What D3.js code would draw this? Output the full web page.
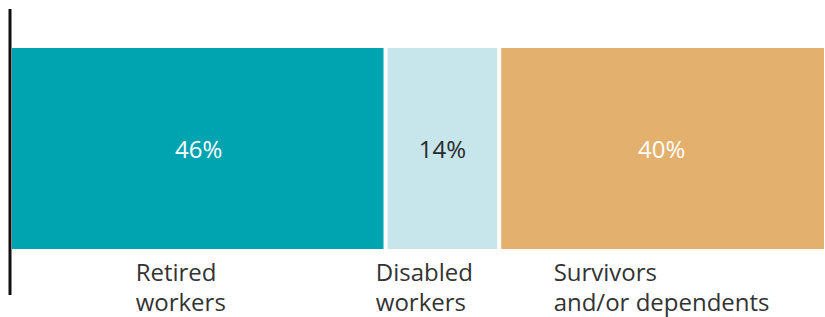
<!DOCTYPE html>
<html>
<meta charset="utf-8">
<style>
body {
  margin: 0;
  background-color: #fff;
  font-family: "Open Sans", Lato, sans-serif;
}

.axis-line {
  stroke: #111;
  stroke-width: 3px;
}

.pct {
  font-size: 24px;
  font-weight: 400;
  text-anchor: middle;
}

.cat {
  font-size: 24px;
  font-weight: 400;
  fill: #333;
}
</style>
<body>
<script src="https://d3js.org/d3.v7.min.js"></script>
<script>

// data
var categories = ["Retired workers", "Disabled workers", "Survivors and/or dependents"];
var shares = [46, 14, 40];
var labelLines = [["Retired", "workers"], ["Disabled", "workers"], ["Survivors", "and/or dependents"]];
var colors = ["#00a3b0", "#c6e6eb", "#e3b06e"];
var textColors = ["#ffffff", "#2a2a2a", "#ffffff"];

var width = 825,
    height = 317,
    gap = 4;

var svg = d3.select("body")
    .append("svg")
    .attr("width", width)
    .attr("height", height);

// stacked positions
var cum = 0;
var data = shares.map(function(v, i) {
  var d = {cat: categories[i], value: v, x0: cum, x1: cum + v, i: i};
  cum += v;
  return d;
});

// x encoding
var x = d3.scaleLinear()
    .domain([0, 100])
    .range([12, 824]);

// single row band
var y = d3.scaleBand()
    .domain(["all"])
    .range([48, 249]);

svg.selectAll("rect.bar")
    .data(data)
    .enter().append("rect")
    .attr("class", "bar")
    .attr("x", function(d) { return x(d.x0) + (d.i > 0 ? gap / 2 : 0); })
    .attr("width", function(d) {
      var l = x(d.x0) + (d.i > 0 ? gap / 2 : 0);
      var r = x(d.x1) - (d.i < data.length - 1 ? gap / 2 : 0);
      return r - l;
    })
    .attr("y", y("all"))
    .attr("height", y.bandwidth())
    .attr("fill", function(d) { return colors[d.i]; });

// percent labels
svg.selectAll("text.pct")
    .data(data)
    .enter().append("text")
    .attr("class", "pct")
    .attr("x", function(d) { return (x(d.x0) + x(d.x1)) / 2; })
    .attr("y", y("all") + y.bandwidth() / 2 + 9)
    .attr("fill", function(d) { return textColors[d.i]; })
    .text(function(d) { return d.value + "%"; });

// category labels: one text per line, left aligned block under the bar
var lines = [];
data.forEach(function(d) {
  labelLines[d.i].forEach(function(s, j) { lines.push({d: d, s: s, j: j}); });
});

var cats = svg.selectAll("text.cat")
    .data(lines)
    .enter().append("text")
    .attr("class", "cat")
    .attr("y", function(l) { return 281 + l.j * 30; })
    .text(function(l) { return l.s; });

// block width per bar
var blockW = data.map(function() { return 0; });
cats.each(function(l) { blockW[l.d.i] = Math.max(blockW[l.d.i], this.getComputedTextLength()); });

cats.attr("x", function(l) {
  var d = l.d;
  return (x(d.x0) + x(d.x1)) / 2 - blockW[d.i] / 2 - (d.i < 2 ? 18 : 0);
});

// vertical baseline axis
svg.append("line")
    .attr("class", "axis-line")
    .attr("x1", 10).attr("x2", 10)
    .attr("y1", 9).attr("y2", 295);

</script>
</body>
</html>
